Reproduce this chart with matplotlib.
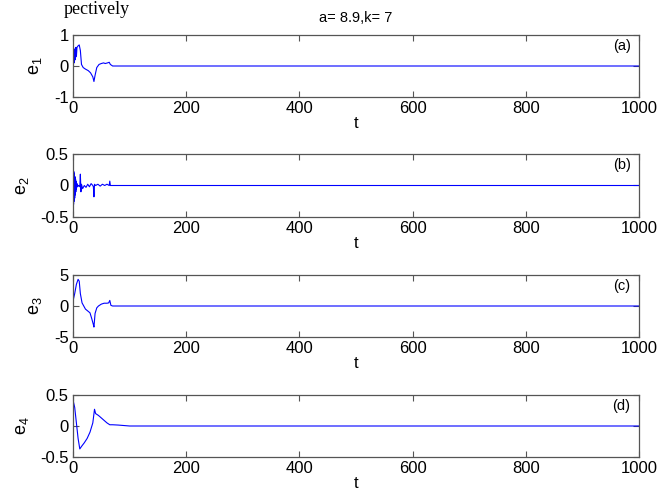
import matplotlib
matplotlib.use("Agg")
import matplotlib.pyplot as plt
import numpy as np

plt.rcParams['font.family'] = ['Liberation Sans', 'DejaVu Sans']
plt.rcParams['mathtext.fontset'] = 'custom'
plt.rcParams['mathtext.rm'] = 'Liberation Sans'
plt.rcParams['mathtext.it'] = 'Liberation Sans'

title = "a= 8.9,k= 7"
panel_tags = ["(a)", "(b)", "(c)", "(d)"]
ylabels = ["e$_1$", "e$_2$", "e$_3$", "e$_4$"]
xticks = [0, 200, 400, 600, 800, 1000]
yticks = [[-1, 0, 1], [-0.5, 0, 0.5], [-5, 0, 5], [-0.5, 0, 0.5]]

t1 = [0, 1, 2, 3, 4, 5, 6, 7, 9, 11, 13, 15, 18, 22, 27, 31, 35, 37, 39, 42, 46, 50, 54, 57, 61, 64, 66, 70, 1000]
e1 = [0.0, 0.5, 0.1, 0.55, 0.2, 0.6, 0.3, 0.6, 0.65, 0.68, 0.5, 0.05, -0.05, -0.1, -0.15, -0.22, -0.35, -0.5, -0.3, -0.05, 0.05, 0.08, 0.1, 0.08, 0.1, 0.12, 0.05, 0.0, 0.0]

t2 = [0, 0.5, 1, 1.5, 2, 2.5, 3, 3.5, 4, 4.5, 5, 5.5, 6, 7, 8, 10, 12, 13, 14, 15, 17, 20, 23, 26, 29, 32, 35, 36, 37, 38, 40, 44, 48, 52, 56, 60, 64, 65, 66, 68, 1000]
e2 = [0.0, 0.25, -0.3, 0.22, -0.25, 0.18, -0.2, 0.14, -0.15, 0.1, -0.1, 0.07, -0.06, 0.03, -0.02, 0.0, -0.02, 0.18, -0.1, 0.02, -0.05, 0.0, -0.03, 0.02, -0.02, 0.03, 0.0, -0.02, -0.18, 0.02, 0.0, 0.02, -0.01, 0.02, 0.0, 0.02, 0.0, 0.07, 0.0, 0.0, 0.0]

t3 = [0, 3, 6, 9, 11, 13, 16, 19, 22, 26, 30, 33, 36, 37, 39, 42, 45, 50, 55, 60, 63, 65, 67, 70, 1000]
e3 = [0.8, 2.0, 3.5, 4.3, 4.0, 2.0, 0.5, 0.0, -0.5, -0.8, -1.1, -2.0, -3.0, -3.4, -1.2, -0.3, 0.0, 0.3, 0.45, 0.45, 0.5, 0.9, 0.1, 0.0, 0.0]

t4 = [0, 3, 6, 9, 12, 15, 20, 25, 30, 35, 38, 40, 45, 50, 55, 60, 65, 70, 80, 100, 1000]
e4 = [0.42, 0.3, 0.05, -0.2, -0.37, -0.33, -0.27, -0.2, -0.1, 0.05, 0.27, 0.2, 0.17, 0.13, 0.09, 0.05, 0.02, 0.02, 0.015, 0.0, 0.0]

series = [(t1, e1), (t2, e2), (t3, e3), (t4, e4)]

fig = plt.figure(figsize=(6.59, 5.0), dpi=100)
W, H = 659, 500
left, right = 73, 639
tops = [35, 154, 275, 395]
bots = [97, 217, 337, 457]

for i in range(4):
    ax = fig.add_axes([left / W, 1 - bots[i] / H, (right - left) / W, (bots[i] - tops[i]) / H])
    t, e = series[i]
    ax.plot(t, e, color='#0000ff', lw=0.8)
    ax.set_xlim(0, 1000)
    yt = yticks[i]
    ax.set_ylim(yt[0], yt[-1])
    ax.set_xticks(xticks)
    ax.set_yticks(yt)
    ax.set_yticklabels([('%g' % v) for v in yt])
    ax.tick_params(direction='in', top=True, right=True, length=4, labelsize=12, width=0.8,
                   colors='#555555', labelcolor='black', pad=3)
    for s in ax.spines.values():
        s.set_color('#555555')
        s.set_linewidth(0.9)
    ax.set_xlabel('t', fontsize=12, labelpad=0)
    ax.set_ylabel(ylabels[i], fontsize=13, labelpad=7)
    ax.text(0.985, 0.93, panel_tags[i], transform=ax.transAxes, ha='right', va='top', fontsize=10.5)
    if i == 0:
        ax.set_title(title, fontsize=10.5, pad=9)

fig.text(0.097, 0.999, "pectively", fontsize=13, family='Liberation Serif', ha='left', va='top')
fig.savefig('out.png', dpi=100)
